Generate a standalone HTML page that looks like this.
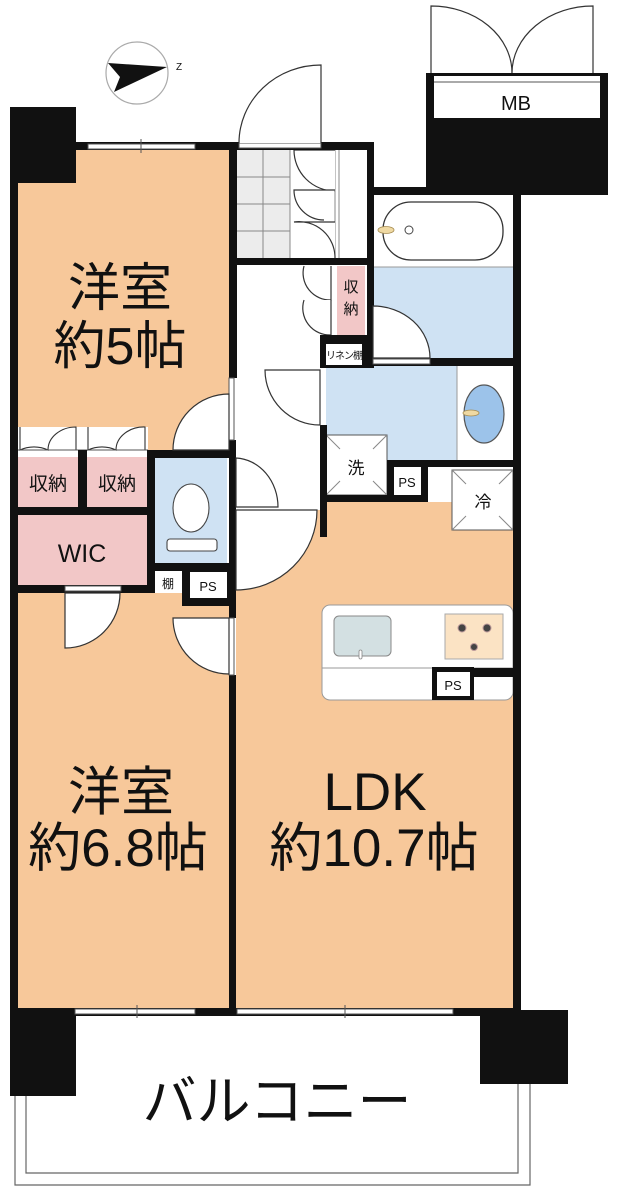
<!DOCTYPE html>
<html><head><meta charset="utf-8">
<style>
html,body{margin:0;padding:0;background:#fff;}
svg{display:block;}
text{font-family:"Liberation Sans","Noto Sans CJK JP",sans-serif;fill:#111;}
</style></head>
<body>
<svg width="617" height="1200" viewBox="0 0 617 1200" xmlns="http://www.w3.org/2000/svg">
<rect width="617" height="1200" fill="#fff"/>
<!-- balcony -->
<path d="M15 1096 V1185 H530 V1084" fill="none" stroke="#666" stroke-width="1.2"/>
<path d="M26 1096 V1173 H518 V1084" fill="none" stroke="#666" stroke-width="1.2"/>
<text x="277" y="1120" font-size="54" text-anchor="middle">バルコニー</text>

<!-- orange rooms -->
<rect x="18" y="150" width="211" height="302" fill="#f7c89a"/>
<rect x="18" y="593" width="211" height="417" fill="#f7c89a"/>
<rect x="236" y="502" width="278" height="508" fill="#f7c89a"/>
<!-- corridor/entrance white -->
<rect x="236" y="265" width="91" height="245" fill="#fff"/>
<!-- tiles -->
<rect x="236" y="150" width="54" height="108" fill="#ececec"/>
<g stroke="#888" stroke-width="1">
<line x1="263" y1="150" x2="263" y2="258"/><line x1="290" y1="150" x2="290" y2="258"/>
<line x1="236" y1="177" x2="290" y2="177"/><line x1="236" y1="204" x2="290" y2="204"/><line x1="236" y1="231" x2="290" y2="231"/>
<line x1="335" y1="150" x2="335" y2="258"/><line x1="339" y1="150" x2="339" y2="258"/>
</g>
<g fill="#fff" stroke="#333" stroke-width="1.2">
<path d="M335 150 H294 A41 41 0 0 0 335 191"/>
<path d="M335 190 H294 A30 30 0 0 0 324 220"/>
<path d="M335 222 H294 A36 36 0 0 1 335 258" />
</g>
<!-- bath -->
<rect x="373" y="195" width="140" height="72" fill="#fff"/>
<rect x="383" y="202" width="120" height="58" rx="28" fill="#fff" stroke="#333" stroke-width="1.3"/>
<ellipse cx="386" cy="230" rx="8" ry="3.5" fill="#efd9a3" stroke="#a58b50" stroke-width="0.8"/>
<circle cx="409" cy="230" r="4" fill="#fff" stroke="#444" stroke-width="1"/>
<rect x="373" y="267" width="140" height="91" fill="#cfe2f3"/>
<line x1="373" y1="267" x2="513" y2="267" stroke="#999" stroke-width="1"/>
<!-- washroom -->
<rect x="326" y="366" width="131" height="94" fill="#cfe2f3"/>
<rect x="457" y="366" width="56" height="94" fill="#fff"/>
<line x1="457" y1="366" x2="457" y2="460" stroke="#999" stroke-width="1"/>
<ellipse cx="484" cy="414" rx="20" ry="29" fill="#9cc3ea" stroke="#555" stroke-width="1.2"/>
<ellipse cx="471" cy="413" rx="8" ry="3" fill="#efd9a3" stroke="#a58b50" stroke-width="0.8"/>
<!-- 洗 -->
<rect x="326" y="435" width="61" height="60" fill="#fff" stroke="#555" stroke-width="1"/>
<g stroke="#888" stroke-width="1"><line x1="326" y1="435" x2="340" y2="449"/><line x1="387" y1="435" x2="373" y2="449"/><line x1="326" y1="495" x2="340" y2="481"/><line x1="387" y1="495" x2="373" y2="481"/></g>
<text x="356" y="474" font-size="17" text-anchor="middle">洗</text>
<!-- 冷 -->
<rect x="452" y="470" width="61" height="60" fill="#fff" stroke="#555" stroke-width="1"/>
<g stroke="#888" stroke-width="1"><line x1="452" y1="470" x2="466" y2="484"/><line x1="513" y1="470" x2="499" y2="484"/><line x1="452" y1="530" x2="466" y2="516"/><line x1="513" y1="530" x2="499" y2="516"/></g>
<text x="483" y="508" font-size="17" text-anchor="middle">冷</text>

<!-- corridor 収納 -->
<rect x="337" y="266" width="28" height="69" fill="#f2c7c7"/>
<text x="351" y="292" font-size="15" text-anchor="middle">収</text>
<text x="351" y="314" font-size="15" text-anchor="middle">納</text>
<line x1="331" y1="266" x2="331" y2="335" stroke="#555" stroke-width="1"/>
<g fill="#fff" stroke="#333" stroke-width="1.2">
<path d="M331 266 V300 A27 27 0 0 1 304 266"/>
<path d="M331 300 V335 A27 27 0 0 1 304 300"/>
</g>

<!-- left column rooms -->
<rect x="18" y="427" width="130" height="30" fill="#fff"/>
<g fill="#fff" stroke="#333" stroke-width="1.1">
<path d="M20 427 V450 A28 23 0 0 1 48 450 A28 23 0 0 1 76 427 V450"/>
<path d="M88 427 V450 A28 23 0 0 1 116 450 A28 23 0 0 1 145 427 V450"/>
</g>
<line x1="18" y1="450" x2="148" y2="450" stroke="#555" stroke-width="1"/>
<rect x="18" y="457" width="60" height="50" fill="#f2c7c7"/>
<rect x="87" y="457" width="60" height="50" fill="#f2c7c7"/>
<text x="48" y="490" font-size="19" text-anchor="middle">収納</text>
<text x="117" y="490" font-size="19" text-anchor="middle">収納</text>
<rect x="18" y="515" width="129" height="70" fill="#f2c7c7"/>
<text x="82" y="562" font-size="25" text-anchor="middle">WIC</text>
<!-- toilet -->
<rect x="155" y="458" width="72" height="105" fill="#cfe2f3"/>
<ellipse cx="191" cy="508" rx="18" ry="24" fill="#fff" stroke="#444" stroke-width="1.1"/>
<rect x="167" y="539" width="50" height="12" rx="3" fill="#fff" stroke="#444" stroke-width="1.1"/>

<!-- kitchen -->
<rect x="322" y="605" width="191" height="95" rx="8" fill="#fff" stroke="#999" stroke-width="1"/>
<line x1="322" y1="668" x2="513" y2="668" stroke="#999" stroke-width="1"/>
<rect x="334" y="616" width="57" height="40" rx="5" fill="#d3e0e2" stroke="#888" stroke-width="1"/>
<rect x="359" y="650" width="3" height="9" rx="1.5" fill="#fff" stroke="#888" stroke-width="0.8"/>
<rect x="445" y="614" width="58" height="45" fill="#fbe3c4" stroke="#aaa" stroke-width="1"/>
<g fill="#444" stroke="#b99" stroke-width="1"><circle cx="462" cy="628" r="4"/><circle cx="487" cy="628" r="4"/><circle cx="474" cy="647" r="3.5"/></g>
<rect x="432" y="667" width="42" height="33" fill="#111"/>
<rect x="437" y="672" width="33" height="24" fill="#fff"/>
<text x="453" y="690" font-size="13" text-anchor="middle">PS</text>
<rect x="474" y="668" width="39" height="9" fill="#111"/>

<!-- WALLS -->
<g fill="#111">
<rect x="10" y="107" width="66" height="76"/>
<rect x="10" y="150" width="8" height="866"/>
<rect x="76" y="142" width="160" height="8"/>
<rect x="229" y="142" width="8" height="236"/>
<rect x="229" y="440" width="7" height="178"/>
<rect x="229" y="675" width="7" height="340"/>
<rect x="236" y="142" width="137" height="8"/>
<rect x="367" y="142" width="7" height="226"/>
<rect x="236" y="258" width="131" height="7"/>
<rect x="426" y="73" width="182" height="121"/>
<rect x="373" y="187" width="235" height="8"/>
<rect x="513" y="187" width="8" height="829"/>
<rect x="373" y="358" width="148" height="8"/>
<rect x="320" y="335" width="53" height="33"/>
<rect x="320" y="425" width="7" height="112"/>
<rect x="387" y="460" width="134" height="7"/>
<rect x="320" y="495" width="108" height="7"/>
<rect x="387" y="460" width="41" height="42"/>
<rect x="18" y="507" width="137" height="8"/>
<rect x="78" y="450" width="9" height="57"/>
<rect x="147" y="450" width="89" height="8"/>
<rect x="147" y="450" width="8" height="143"/>
<rect x="147" y="563" width="89" height="8"/>
<rect x="18" y="585" width="164" height="8"/>
<rect x="182" y="563" width="54" height="43"/>
<rect x="10" y="1008" width="226" height="8"/>
<rect x="236" y="1008" width="285" height="8"/>
<rect x="10" y="1010" width="66" height="86"/>
<rect x="480" y="1010" width="88" height="74"/>
</g>
<rect x="326" y="344" width="36" height="21" fill="#fff"/>
<text x="344" y="359" font-size="10" text-anchor="middle" letter-spacing="-1">リネン棚</text>
<rect x="394" y="467" width="27" height="28" fill="#fff"/>
<text x="407" y="487" font-size="13" text-anchor="middle">PS</text>
<rect x="190" y="572" width="37" height="26" fill="#fff"/>
<text x="208" y="591" font-size="13" text-anchor="middle">PS</text>
<rect x="155" y="571" width="27" height="22" fill="#fff"/>
<text x="168" y="588" font-size="12" text-anchor="middle">棚</text>
<rect x="434" y="76" width="166" height="42" fill="#fff"/>
<line x1="434" y1="82" x2="600" y2="82" stroke="#555" stroke-width="1"/>
<text x="516" y="110" font-size="20" text-anchor="middle">MB</text>
<g fill="#fff" stroke="#555" stroke-width="1">
<rect x="88" y="144" width="107" height="5"/>
<rect x="75" y="1009" width="120" height="5"/>
<rect x="237" y="1009" width="216" height="5"/>
<rect x="239" y="143" width="82" height="5"/>
<rect x="229" y="378" width="5" height="62"/>
<rect x="229" y="618" width="5" height="57"/>
<rect x="65" y="586" width="56" height="5"/>
<rect x="373" y="359" width="57" height="5"/>
</g>
<g stroke="#555" stroke-width="1"><line x1="141" y1="139" x2="141" y2="153"/><line x1="137" y1="1005" x2="137" y2="1018"/><line x1="345" y1="1005" x2="345" y2="1018"/></g>

<!-- doors -->
<g fill="#fff" stroke="#333" stroke-width="1.2">
<path d="M321 143 V65 A82 78 0 0 0 239 143"/>
<path d="M431 73 V6 A81 67 0 0 1 512 73"/>
<path d="M593 73 V6 A81 67 0 0 0 512 73"/>
<path d="M229 450 V394 A56 56 0 0 0 173 450 Z"/>
<path d="M229 618 H173 A56 56 0 0 0 229 674 Z"/>
<path d="M65 593 H120 A55 55 0 0 1 65 648 Z"/>
<path d="M236 458 A44 49 0 0 1 278 507 H236 Z"/>
<path d="M236 510 H317 A81 80 0 0 1 236 590 Z"/>
<path d="M320 370 H265 A55 55 0 0 0 320 425 Z"/>
<path d="M373 358 V306 A57 52 0 0 1 430 358 Z"/>
</g>

<!-- compass -->
<circle cx="137" cy="73" r="31" fill="none" stroke="#aaa" stroke-width="1.2"/>
<polygon points="167,67 108,63 120,77 114,92" fill="#111"/>
<text x="176" y="70" font-size="10" fill="#333">Z</text>

<!-- room labels -->
<text x="120" y="306" font-size="52" text-anchor="middle">洋室</text>
<text x="120" y="364" font-size="52" text-anchor="middle">約5帖</text>
<text x="121" y="810" font-size="53" text-anchor="middle">洋室</text>
<text x="118" y="866" font-size="53" text-anchor="middle">約6.8帖</text>
<text x="375" y="810" font-size="53" text-anchor="middle">LDK</text>
<text x="374" y="866" font-size="53" text-anchor="middle">約10.7帖</text>
</svg>
</body></html>
